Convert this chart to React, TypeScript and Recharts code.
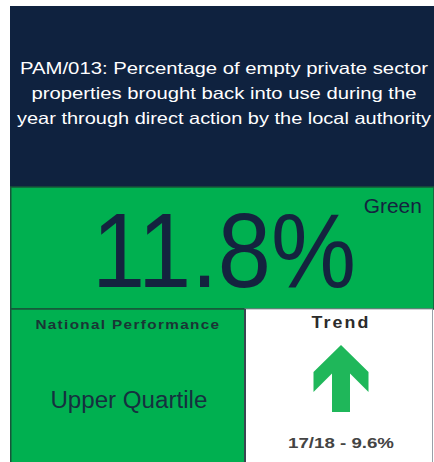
import React from "react";
import { ComposedChart, XAxis, YAxis, ReferenceArea, ReferenceDot } from "recharts";

// KPI tile content
const titleLines = [
  "PAM/013: Percentage of empty private sector",
  "properties brought back into use during the",
  "year through direct action by the local authority",
];
const currentValue = [11.8];
const ragStatus = ["Green"];
const nationalHeading = ["National Performance"];
const nationalQuartile = ["Upper Quartile"];
const trendHeading = ["Trend"];
const trendDirection = ["up"];
const previousPeriod = ["17/18"];
const previousValue = [9.6];

const W = 434;
const H = 462;
const NAVY = "#0f223f";
const GREEN = "#00b050";
const ARROW = "#1fb75a";
const FONT = "'Liberation Sans', Arial, sans-serif";

// title line widths measured off the tile, used to stretch the text a bit
const titleWidths = [408, 385, 414];

const TitlePanel = (props: any) => {
  const { x, y, width, height } = props;
  const cx = x + width / 2 + 2;
  return (
    <g>
      <rect x={x} y={y} width={width} height={height} fill={NAVY} />
      {titleLines.map((line, i) => (
        <text
          key={i}
          x={cx}
          y={y + 68 + i * 25}
          textAnchor="middle"
          fill="#ffffff"
          fontFamily={FONT}
          fontSize={16.5}
          textLength={titleWidths[i]}
          lengthAdjust="spacingAndGlyphs"
        >
          {line}
        </text>
      ))}
    </g>
  );
};

const ValuePanel = (props: any) => {
  const { x, y, width, height } = props;
  const valueText = `${currentValue[0].toFixed(1)}%`;
  const base = y + 100;
  return (
    <g>
      <rect x={x} y={y} width={width} height={height} fill={GREEN} stroke="#17563a" strokeWidth={1.5} />
      <g transform={`translate(0 ${base}) scale(1 1.05) translate(0 ${-base})`}>
        <text
          x={x + 213.25}
          y={base}
          textAnchor="middle"
          fill="#14233f"
          fontFamily={FONT}
          fontSize={100}
          textLength={264}
          lengthAdjust="spacingAndGlyphs"
        >
          {valueText}
        </text>
      </g>
      <text
        x={x + 411}
        y={y + 26}
        textAnchor="end"
        fill="#14233f"
        fontFamily={FONT}
        fontSize={19.5}
        textLength={58}
        lengthAdjust="spacingAndGlyphs"
      >
        {ragStatus[0]}
      </text>
    </g>
  );
};

const NationalPanel = (props: any) => {
  const { x, y, width, height } = props;
  const cx = x + width / 2;
  return (
    <g>
      <rect x={x} y={y} width={width} height={height} fill={GREEN} stroke="#17563a" strokeWidth={1.5} />
      <text
        x={cx}
        y={y + 20}
        textAnchor="middle"
        fill="#1a3535"
        fontFamily={FONT}
        fontWeight="bold"
        fontSize={13.5}
        letterSpacing={1.2}
        textLength={185}
        lengthAdjust="spacingAndGlyphs"
      >
        {nationalHeading[0]}
      </text>
      <text
        x={cx + 1}
        y={y + 99}
        textAnchor="middle"
        fill="#16303f"
        fontFamily={FONT}
        fontSize={23}
        textLength={157}
        lengthAdjust="spacingAndGlyphs"
      >
        {nationalQuartile[0]}
      </text>
    </g>
  );
};

const TrendPanel = (props: any) => {
  const { x, y, width, height } = props;
  const cx = x + 96;
  const prevText = `${previousPeriod[0]} - ${previousValue[0].toFixed(1)}%`;
  return (
    <g>
      <rect x={x} y={y} width={width} height={height} fill="#ffffff" stroke="#9aa0a8" strokeWidth={1} />
      <line x1={x} y1={y} x2={x} y2={y + height} stroke="#3a4550" strokeWidth={2} />
      <text
        x={cx}
        y={y + 19}
        textAnchor="middle"
        fill="#2b2b2b"
        fontFamily={FONT}
        fontWeight="bold"
        fontSize={17}
        letterSpacing={2}
        textLength={59}
        lengthAdjust="spacingAndGlyphs"
      >
        {trendHeading[0]}
      </text>
      <text
        x={cx}
        y={y + 139}
        textAnchor="middle"
        fill="#444444"
        fontFamily={FONT}
        fontWeight="bold"
        fontSize={15.5}
        textLength={106}
        lengthAdjust="spacingAndGlyphs"
      >
        {prevText}
      </text>
    </g>
  );
};

// block arrow, drawn around the dot position; flips when the trend is down
const TrendArrow = (props: any) => {
  const { cx, cy } = props;
  const dir = trendDirection[0] === "up" ? 1 : -1;
  const pts = [
    [0, -33],
    [-27.5, -6],
    [-27.5, 14],
    [-9, -4.5],
    [-9, 34],
    [9, 34],
    [9, -4.5],
    [27.5, 14],
    [27.5, -6],
  ]
    .map(([dx, dy]) => `${cx + dx},${cy + dy * dir}`)
    .join(" ");
  return <polygon points={pts} fill={ARROW} />;
};

export default function App() {
  return (
    <div style={{ position: "absolute", left: 0, top: 0, width: W, height: H, background: "#fff" }}>
      <ComposedChart width={W} height={H} margin={{ top: 0, right: 0, bottom: 0, left: 0 }}>
        <XAxis type="number" dataKey="x" domain={[0, W]} hide allowDataOverflow />
        <YAxis type="number" dataKey="y" domain={[0, H]} reversed hide allowDataOverflow />
        <ReferenceArea x1={10} x2={434} y1={6} y2={187} shape={TitlePanel} ifOverflow="visible" />
        <ReferenceArea x1={10.75} x2={434} y1={187} y2={309} shape={ValuePanel} ifOverflow="visible" />
        <ReferenceArea x1={10.75} x2={245} y1={309} y2={463} shape={NationalPanel} ifOverflow="visible" />
        <ReferenceArea x1={245} x2={432.5} y1={309} y2={463} shape={TrendPanel} ifOverflow="visible" />
        <ReferenceDot x={341} y={378} r={1} shape={TrendArrow} ifOverflow="visible" />
      </ComposedChart>
    </div>
  );
}
